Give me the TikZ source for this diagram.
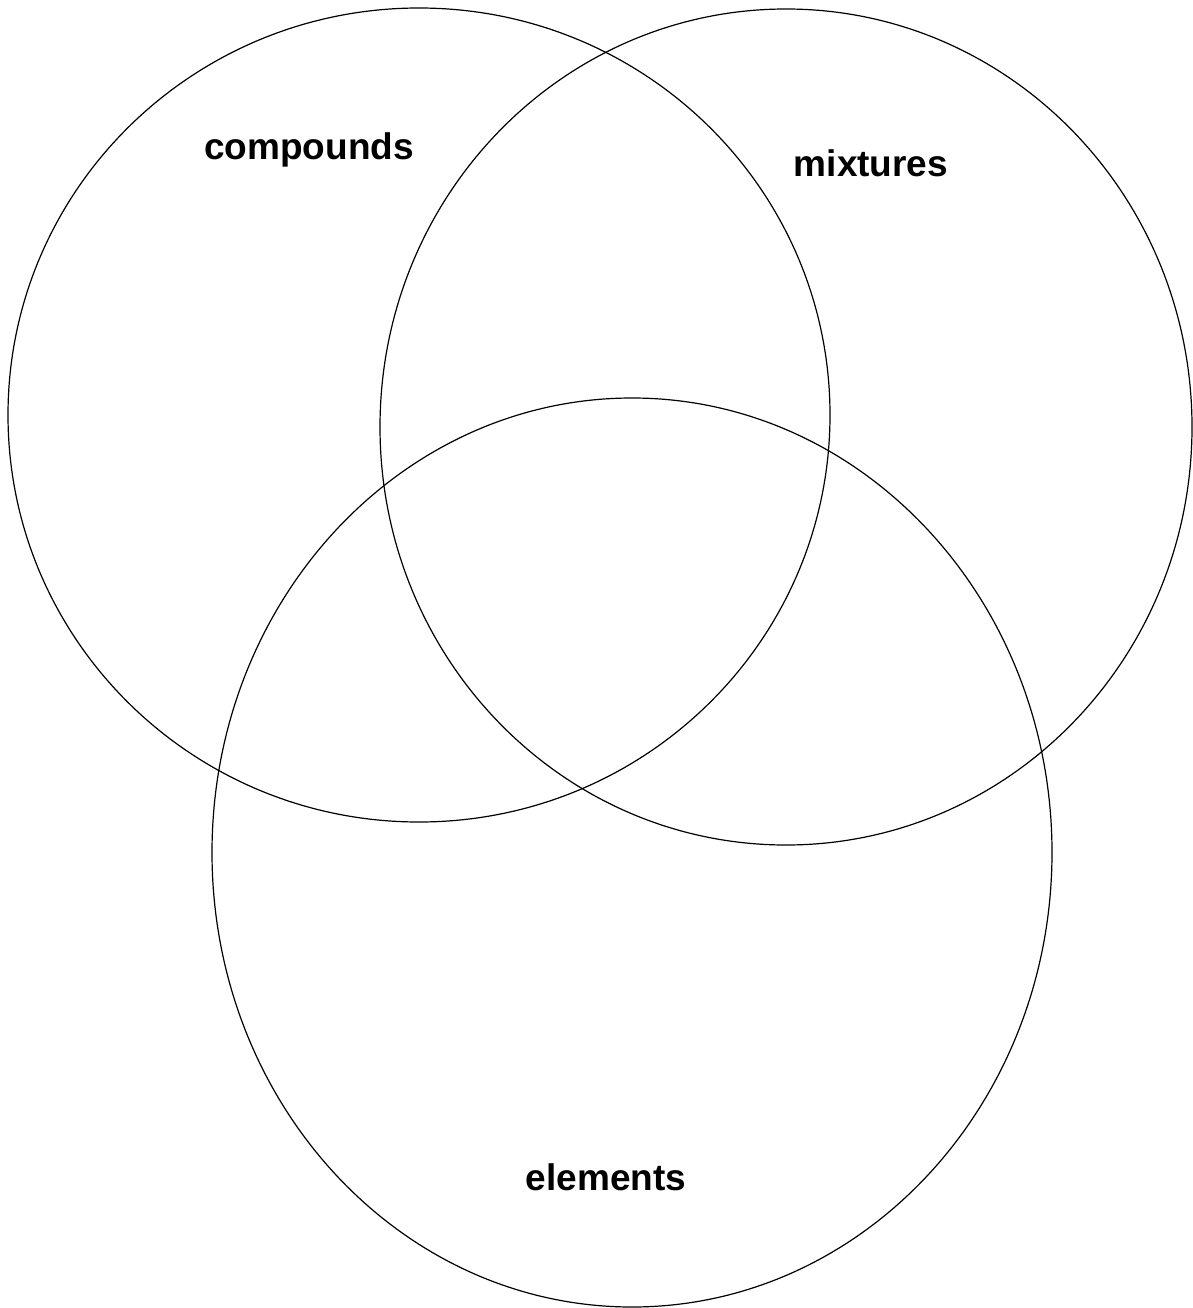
\documentclass[tikz,border=0pt]{standalone}
\usepackage{fontspec}
\setmainfont{Liberation Sans}
\begin{document}
\begin{tikzpicture}[x=1pt, y=-1pt]
        \tikzstyle{set}=[draw, line width=1.2pt];
        \tikzstyle{setlabel}=[font=\bfseries\fontsize{37}{44}\selectfont, inner sep=0pt];

        \useasboundingbox (0,0) rectangle (1192,1308);

        \draw[set] (419,415) ellipse [x radius=411, y radius=407];
        \draw[set] (786,427) ellipse [x radius=406, y radius=418];
        \draw[set] (632,852.5) ellipse [x radius=420, y radius=454.5];

        \node[setlabel] (compounds) at (309,150) {compounds};
        \node[setlabel] (mixtures) at (871,163) {mixtures};
        \node[setlabel] (elements) at (606,1177) {elements};
    \end{tikzpicture}
\end{document}
